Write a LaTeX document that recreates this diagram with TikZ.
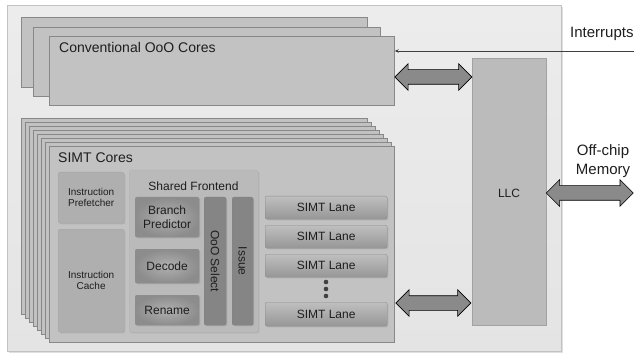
\documentclass[tikz,border=0pt]{standalone}
\usepackage{fontspec}
\setmainfont{Liberation Sans}
\usetikzlibrary{shapes.arrows,shadows,calc,arrows.meta}

\definecolor{ink}{HTML}{1E1E1E}
\definecolor{chipfill}{HTML}{E4E4E4}
\definecolor{chipline}{HTML}{C2C2C2}
\definecolor{corefill}{HTML}{C2C2C2}
\definecolor{coreline}{HTML}{888888}
\definecolor{unitfill}{HTML}{AFAFAF}
\definecolor{llcfill}{HTML}{BBBBBB}
\definecolor{llcline}{HTML}{A2A2A2}
\definecolor{arrowfill}{HTML}{8A8A8A}

\tikzset{
  plainbox/.style={draw, rectangle, inner sep=0pt, anchor=north west},
  chipbox/.style={plainbox, draw=chipline, line width=0.8pt,
    top color=chipfill!70!white, bottom color=chipfill,
    drop shadow={opacity=0.25, shadow xshift=1.5pt, shadow yshift=-1.5pt}},
  corebox/.style={plainbox, draw=coreline, line width=0.7pt, fill=corefill},
  unitbox/.style={plainbox, draw=black!35, line width=0.3pt, rounded corners=2pt,
    fill=unitfill, text=ink, align=center,
    drop shadow={opacity=0.22, shadow xshift=1.2pt, shadow yshift=-1.2pt}},
  stagebox/.style={unitbox, draw=black!45, inner color=black!31, outer color=black!45},
  pipebox/.style={unitbox, draw=black!50, left color=black!48, middle color=black!39, right color=black!48},
  lanebox/.style={unitbox, draw=black!45, top color=black!25, bottom color=black!41},
  fatarrow/.style={draw=black, line width=0.6pt, fill=arrowfill, shape=double arrow,
    double arrow head extend=6pt, minimum width=26pt, inner xsep=0pt, inner ysep=7pt,
    double arrow tip angle=90},
  title/.style={text=ink, inner sep=0pt, font=\fontsize{14}{16}\selectfont},
  outlabel/.style={text=ink, inner sep=0pt, font=\fontsize{15}{19}\selectfont, align=center},
  midfont/.style={font=\fontsize{12}{14}\selectfont},
  smallfont/.style={font=\fontsize{10}{11.5}\selectfont},
}

\begin{document}
\begin{tikzpicture}[x=1pt,y=-1pt]
\useasboundingbox (0,0) rectangle (634,358);
\fill[white] (0,0) rectangle (634,358);

% chip outline
\node[chipbox, minimum width=554pt, minimum height=346pt] (chip) at (7,5) {};

% conventional out-of-order cores (stacked)
\node[corebox, minimum width=346pt, minimum height=70pt] (conv3) at (21,17) {};
\node[corebox, minimum width=347pt, minimum height=69pt] (conv2) at (33,27) {};
\node[corebox, minimum width=345pt, minimum height=69pt] (conv) at (49,36) {};
\node[title, anchor=base west] (convlabel) at (59,53) {Conventional OoO Cores};

% SIMT cores (stacked)
\foreach \i in {0,...,6}
  \node[corebox, minimum width=346pt, minimum height=196pt] (simt\i) at (21+4*\i,118+4*\i) {};
\node[corebox, minimum width=345pt, minimum height=196pt] (simt) at (49,146) {};
\node[title, anchor=base west] (simtlabel) at (58,163) {SIMT Cores};

% instruction supply
\node[unitbox, smallfont, minimum width=66pt, minimum height=51pt] (pref) at (58,172) {Instruction\\Prefetcher};
\node[unitbox, smallfont, minimum width=66pt, minimum height=103pt] (icache) at (58,229) {Instruction\\Cache};

% shared frontend
\node[unitbox, draw=black!30, fill=black!27, minimum width=129pt, minimum height=162pt] (sfe) at (129,170) {};
\node[text=ink, inner sep=0pt, midfont] (sfelabel) at (193.5,186) {Shared Frontend};
\node[stagebox, midfont, minimum width=64pt, minimum height=40pt] (bp) at (135,197) {Branch\\Predictor};
\node[stagebox, midfont, minimum width=64pt, minimum height=34pt] (dec) at (135,249) {Decode};
\node[stagebox, midfont, minimum width=64pt, minimum height=30pt] (ren) at (135,295) {Rename};
\node[pipebox, minimum width=22pt, minimum height=128pt] (sel) at (204,197) {};
\node[text=ink, midfont, rotate=-90, inner sep=0pt] (sellabel) at (sel.center) {OoO Select};
\node[pipebox, minimum width=21pt, minimum height=128pt] (iss) at (232,197) {};
\node[text=ink, midfont, rotate=-90, inner sep=0pt] (isslabel) at (iss.center) {Issue};

% SIMT lanes
\node[lanebox, midfont, minimum width=122pt, minimum height=23pt] (lane1) at (265,196) {SIMT Lane};
\node[lanebox, midfont, minimum width=122pt, minimum height=23pt] (lane2) at (265,225) {SIMT Lane};
\node[lanebox, midfont, minimum width=122pt, minimum height=23pt] (lane3) at (265,254) {SIMT Lane};
\node[lanebox, midfont, minimum width=122pt, minimum height=24pt] (lane4) at (265,302) {SIMT Lane};
\foreach \yy in {282,289,296}
  \fill[black!75] (326,\yy) circle (2.3pt);

% last-level cache
\node[plainbox, draw=llcline, line width=0.6pt, fill=llcfill, text=ink, midfont,
      minimum width=74pt, minimum height=267pt] (llc) at (472,58) {};
\node[text=ink, midfont, inner sep=0pt] (llclabel) at (509,193) {LLC};

% interconnect arrows
\node[fatarrow, minimum height=77pt] (convlink) at ($(conv.east|-0,77)!0.5!(llc.west|-0,77)$) {};
\node[fatarrow, minimum height=75pt] (simtlink) at ($(simt.east|-0,303)!0.5!(llc.west|-0,303)$) {};

% off-chip memory
\node[outlabel] (mem) at (603,161) {Off-chip\\Memory};
\coordinate (memedge) at (633,193);
\node[fatarrow, minimum height=87pt] (memlink) at ($(llc.east|-memedge)!0.5!(memedge)$) {};

% interrupts
\node[outlabel, anchor=base west] (intr) at (570,38) {Interrupts};
\coordinate (intin) at (634,51);
\draw[black!75, line width=0.7pt, -{Stealth[length=4pt,width=3.5pt]}] (intin) -- (conv.east|-intin);
\end{tikzpicture}
\end{document}
